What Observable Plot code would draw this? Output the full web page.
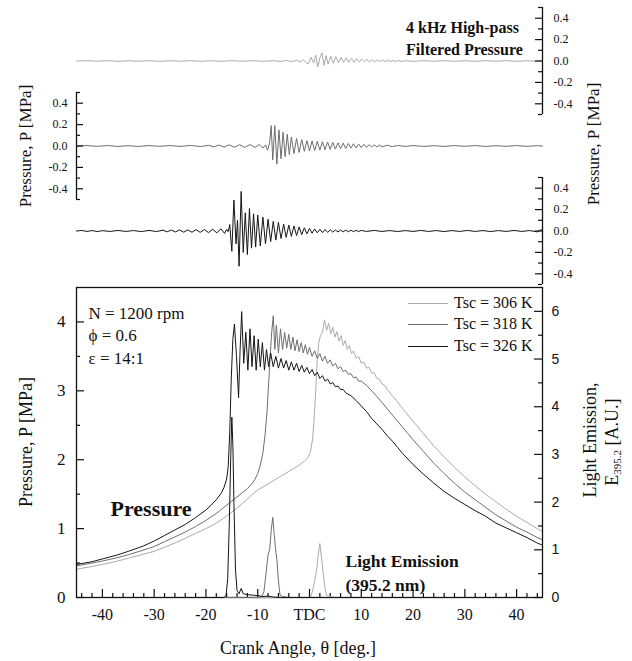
<!DOCTYPE html>
<html><head><meta charset="utf-8">
<script src="https://cdn.jsdelivr.net/npm/d3@7"></script>
<script src="https://cdn.jsdelivr.net/npm/@observablehq/plot@0.6"></script>
<style>
body{margin:0;background:#fff;}
#wrap{position:relative;width:632px;height:661px;font-family:"Liberation Serif","Times New Roman",serif;color:#111;overflow:hidden;background:#fff}
.layer{position:absolute;left:0}
.rot{position:absolute;transform:translate(-50%,-50%) rotate(-90deg);white-space:nowrap;line-height:1}
.lbl{position:absolute;white-space:nowrap;line-height:1;transform:translateY(-50%)}
.leg{position:absolute;left:408px;display:flex;align-items:center;font-size:16px;line-height:1;transform:translateY(-50%)}
.leg span.ln{display:inline-block;width:40px;height:0;border-top:1.2px solid;margin-right:6px}
</style></head><body><div id="wrap"></div>
<script>
// ---- data ----
const seriesNames = ["Tsc = 306 K", "Tsc = 318 K", "Tsc = 326 K"];
const seriesColors = ["#ababab", "#6e6e6e", "#151515"];

const xMajor = [-40, -30, -20, -10, 0, 10, 20, 30, 40];
const xMinor = [-44,-42,-38,-36,-34,-32,-28,-26,-24,-22,-18,-16,-14,-12,-8,-6,-4,-2,2,4,6,8,12,14,16,18,22,24,26,28,32,34,36,38,42,44];
const pMajor = [0, 1, 2, 3, 4];
const pMinor = [0.5, 1.5, 2.5, 3.5];
const eMajor = [0, 1, 2, 3, 4, 5, 6];
const eMinor = [0.5, 1.5, 2.5, 3.5, 4.5, 5.5];
const hpMajor = [-0.4, -0.2, 0, 0.2, 0.4];
const hpMinor = [-0.5, -0.3, -0.1, 0.1, 0.3, 0.5];

// cylinder pressure [MPa] vs crank angle
const p306 = [[-45,0.41],[-42,0.45],[-40,0.48],[-37,0.53],[-35,0.57],[-32,0.63],[-30,0.67],[-28,0.73],[-26,0.79],[-24,0.86],[-22,0.93],[-20,1.0],[-18,1.08],[-16,1.18],[-14,1.3],[-13,1.36],[-12,1.43],[-11,1.5],[-10.5,1.53],[-10,1.56],[-8,1.65],[-6,1.74],[-4,1.83],[-2,1.92],[-1,1.98],[-0.3,2.03],[0.2,2.12],[0.6,2.3],[0.9,2.6],[1.2,3.0],[1.5,3.45],[1.8,3.7],[2.1,3.8],[2.5,3.85],[2.9,4.03],[3.3,3.88],[3.7,3.98],[4.1,3.83],[4.5,3.92],[4.9,3.78],[5.3,3.86],[5.7,3.72],[6.1,3.8],[6.5,3.66],[6.9,3.73],[7.3,3.6],[7.7,3.66],[8.1,3.54],[8.5,3.58],[9,3.47],[9.5,3.5],[10,3.4],[10.5,3.42],[11,3.33],[11.5,3.34],[12,3.26],[12.5,3.26],[13,3.18],[13.5,3.17],[14,3.1],[14.5,3.08],[15,3.02],[16,2.93],[17,2.84],[18,2.74],[19,2.65],[20,2.56],[22,2.38],[24,2.2],[26,2.04],[28,1.89],[30,1.75],[32,1.62],[34,1.5],[36,1.39],[38,1.28],[40,1.18],[42,1.09],[44,1.0],[45,0.96]];
const p318 = [[-45,0.46],[-42,0.5],[-40,0.53],[-37,0.58],[-35,0.62],[-32,0.69],[-30,0.74],[-28,0.81],[-26,0.88],[-24,0.95],[-22,1.03],[-20,1.12],[-18,1.22],[-16,1.34],[-15,1.4],[-14,1.46],[-13,1.52],[-12,1.58],[-11,1.66],[-10.5,1.72],[-10,1.8],[-9.5,1.92],[-9,2.1],[-8.6,2.35],[-8.2,2.7],[-7.9,3.1],[-7.6,3.5],[-7.3,3.85],[-7.0,4.09],[-6.7,3.6],[-6.4,3.95],[-6.0,3.55],[-5.6,3.9],[-5.2,3.6],[-4.8,3.85],[-4.4,3.62],[-4.0,3.82],[-3.6,3.6],[-3.2,3.78],[-2.8,3.58],[-2.4,3.74],[-2.0,3.57],[-1.6,3.7],[-1.2,3.55],[-0.8,3.67],[-0.4,3.53],[0,3.63],[0.5,3.5],[1,3.58],[1.5,3.47],[2,3.54],[2.5,3.43],[3,3.5],[3.5,3.4],[4,3.45],[4.5,3.36],[5,3.4],[5.5,3.32],[6,3.35],[6.5,3.28],[7,3.3],[7.5,3.24],[8,3.25],[8.5,3.19],[9,3.2],[9.5,3.14],[10,3.14],[11,3.08],[12,3.0],[13,2.92],[14,2.83],[15,2.74],[16,2.65],[17,2.56],[18,2.47],[19,2.38],[20,2.29],[22,2.12],[24,1.95],[26,1.8],[28,1.66],[30,1.53],[32,1.42],[34,1.31],[36,1.2],[38,1.11],[40,1.02],[42,0.95],[44,0.87],[45,0.84]];
const p326 = [[-45,0.48],[-42,0.52],[-40,0.56],[-37,0.62],[-35,0.67],[-32,0.75],[-30,0.82],[-28,0.9],[-26,0.98],[-24,1.06],[-22,1.16],[-20,1.27],[-19,1.34],[-18,1.42],[-17,1.52],[-16.5,1.6],[-16,1.72],[-15.7,1.9],[-15.4,2.4],[-15.1,3.2],[-14.8,3.75],[-14.5,3.97],[-14.1,3.5],[-13.7,2.9],[-13.4,3.6],[-13.1,4.15],[-12.7,3.4],[-12.3,3.85],[-11.9,3.3],[-11.5,3.9],[-11.1,3.35],[-10.7,3.8],[-10.3,3.3],[-9.9,3.75],[-9.5,3.35],[-9.1,3.7],[-8.7,3.3],[-8.3,3.6],[-7.9,3.35],[-7.5,3.55],[-7.0,3.35],[-6.5,3.5],[-6,3.33],[-5.5,3.47],[-5,3.33],[-4.5,3.44],[-4,3.3],[-3.5,3.42],[-3,3.3],[-2.5,3.4],[-2,3.28],[-1.5,3.37],[-1,3.27],[-0.5,3.34],[0,3.25],[0.5,3.31],[1,3.22],[1.5,3.27],[2,3.18],[2.5,3.22],[3,3.14],[3.5,3.17],[4,3.1],[4.5,3.12],[5,3.06],[5.5,3.07],[6,3.02],[6.5,3.02],[7,2.97],[8,2.93],[9,2.86],[10,2.78],[11,2.7],[12,2.6],[13,2.52],[14,2.44],[15,2.35],[16,2.27],[17,2.18],[18,2.09],[19,2.01],[20,1.93],[22,1.79],[24,1.66],[26,1.54],[28,1.44],[30,1.35],[32,1.26],[34,1.18],[36,1.08],[38,1.01],[40,0.94],[42,0.87],[44,0.79],[45,0.76]];

// light emission E395.2 [A.U.]
const e306 = [[-45,0],[0.2,0],[0.5,0.1],[0.9,0.3],[1.35,0.56],[1.7,0.9],[2.0,1.13],[2.3,0.85],[2.6,0.55],[3.0,0.2],[3.3,0.05],[4,0.02],[5,0],[45,0]];
const e318 = [[-45,0],[-10,0],[-9.2,0.02],[-8.8,0.12],[-8.4,0.5],[-8.0,0.9],[-7.7,1.0],[-7.4,1.4],[-7.1,1.68],[-6.8,1.3],[-6.5,0.95],[-6.3,0.8],[-6.0,0.35],[-5.7,0.05],[-5.2,0.02],[-4,0],[45,0]];
const e326 = [[-45,0],[-16.5,0],[-16.1,0.05],[-15.8,0.4],[-15.5,1.5],[-15.2,3.0],[-15.0,3.78],[-14.8,3.2],[-14.6,2.0],[-14.3,0.6],[-14.0,0.15],[-13.6,0.08],[-13.2,0.19],[-12.8,0.08],[-12,0.06],[-11,0.05],[-10,0.04],[-9,0.02],[-8,0.03],[-7,0.01],[-6,0],[45,0]];

// 4 kHz high-pass filtered pressure [MPa]
const hp306 = [[-45,0],[-43,0.003],[-41,-0.002],[-39,0.003],[-37,-0.003],[-35,0.002],[-33,-0.002],[-31,0.003],[-29,-0.003],[-27,0.002],[-25,-0.002],[-23,0.003],[-21,-0.003],[-19,0.002],[-17,-0.003],[-15,0.003],[-13,-0.002],[-11,0.003],[-9,-0.003],[-7,0.003],[-5.5,-0.004],[-4.5,0.005],[-3.5,-0.006],[-2.5,0.007],[-1.8,-0.009],[-1.2,0.012],[-0.6,-0.018],[-0.2,-0.025],[0.3,0.035],[0.8,-0.02],[1.2,0.055],[1.6,-0.056],[2.0,0.03],[2.4,0.075],[2.8,-0.04],[3.2,0.05],[3.6,-0.03],[4.1,0.045],[4.6,-0.02],[5.1,0.04],[5.6,-0.018],[6.1,0.035],[6.6,-0.015],[7.1,0.03],[7.6,-0.013],[8.1,0.026],[8.6,-0.012],[9.1,0.022],[9.6,-0.01],[10.1,0.018],[10.6,-0.009],[11.1,0.015],[11.6,-0.008],[12.1,0.013],[12.6,-0.007],[13.1,0.011],[13.6,-0.006],[14.1,0.009],[14.6,-0.006],[15.1,0.008],[15.6,-0.006],[16.1,0.007],[16.6,-0.005],[17.1,0.005],[17.6,-0.004],[18.5,0.003],[20,-0.003],[22,0.003],[24,-0.002],[26,0.003],[28,-0.003],[30,0.002],[32,-0.003],[34,0.003],[36,-0.002],[38,0.003],[40,-0.003],[42,0.002],[44,-0.002],[45,0]];
const hp318 = [[-45,0],[-43,0.004],[-41,-0.003],[-39,0.004],[-37,-0.004],[-35,0.003],[-33,-0.004],[-31,0.004],[-29,-0.003],[-27,0.004],[-25,-0.004],[-23,0.005],[-21,-0.005],[-19.5,0.007],[-18.5,-0.008],[-17.5,0.009],[-16.5,-0.01],[-15.5,0.011],[-14.5,-0.012],[-13.5,0.012],[-12.5,-0.013],[-11.5,0.013],[-10.5,-0.014],[-9.7,0.015],[-9.0,-0.02],[-8.5,0.01],[-8.1,-0.04],[-7.7,0.03],[-7.4,0.19],[-7.1,-0.13],[-6.7,0.19],[-6.3,-0.17],[-5.9,0.15],[-5.5,-0.12],[-5.1,0.13],[-4.7,-0.1],[-4.3,0.11],[-3.9,-0.08],[-3.5,0.085],[-3.0,-0.07],[-2.5,0.07],[-2.0,-0.06],[-1.5,0.06],[-1.0,-0.05],[-0.5,0.05],[0,-0.045],[0.5,0.048],[1,-0.042],[1.5,0.044],[2,-0.038],[2.5,0.04],[3,-0.035],[3.5,0.037],[4,-0.032],[4.5,0.034],[5,-0.029],[5.5,0.03],[6,-0.026],[6.5,0.027],[7,-0.023],[7.5,0.024],[8,-0.02],[8.5,0.021],[9,-0.018],[9.5,0.018],[10,-0.015],[10.5,0.016],[11,-0.013],[11.5,0.013],[12,-0.011],[12.5,0.011],[13,-0.009],[13.5,0.009],[14,-0.008],[15,0.007],[16,-0.006],[17,0.005],[18.5,-0.004],[20,0.004],[22,-0.004],[24,0.003],[26,-0.004],[28,0.004],[30,-0.003],[32,0.004],[34,-0.004],[36,0.003],[38,-0.003],[40,0.004],[42,-0.003],[44,0.003],[45,0]];
const hp326 = [[-45,0],[-44,0.005],[-43,-0.004],[-42,0.004],[-41,-0.005],[-40,0.003],[-38.5,-0.004],[-37,0.005],[-35.5,-0.004],[-34,0.004],[-32.5,-0.005],[-31,0.005],[-29.5,-0.005],[-28.3,0.008],[-27.5,-0.008],[-26.7,0.009],[-25.9,-0.009],[-25.1,0.01],[-24.3,-0.011],[-23.5,0.011],[-22.7,-0.012],[-21.9,0.013],[-21.1,-0.013],[-20.3,0.014],[-19.5,-0.015],[-18.7,0.016],[-17.9,-0.017],[-17.1,0.02],[-16.4,-0.022],[-16.0,0.015],[-15.7,-0.005],[-15.4,0.06],[-15.0,-0.19],[-14.6,0.29],[-14.2,-0.12],[-13.9,0.1],[-13.6,-0.33],[-13.2,0.37],[-12.8,-0.2],[-12.4,0.17],[-12.0,-0.22],[-11.6,0.21],[-11.2,-0.16],[-10.8,0.16],[-10.4,-0.15],[-10.0,0.15],[-9.5,-0.14],[-9.0,0.13],[-8.5,-0.12],[-8.0,0.11],[-7.5,-0.1],[-7.0,0.09],[-6.5,-0.085],[-6.0,0.08],[-5.5,-0.07],[-5.0,0.065],[-4.5,-0.06],[-4.0,0.055],[-3.5,-0.05],[-3.0,0.047],[-2.5,-0.042],[-2.0,0.038],[-1.5,-0.034],[-1.0,0.03],[-0.5,-0.027],[0,0.024],[0.5,-0.021],[1,0.019],[1.5,-0.017],[2,0.016],[2.5,-0.015],[3,0.014],[3.5,-0.013],[4,0.012],[4.5,-0.011],[5,0.01],[5.5,-0.009],[6,0.009],[6.5,-0.008],[7,0.008],[7.5,-0.007],[8,0.007],[8.5,-0.006],[9,0.006],[9.5,-0.005],[10,0.005],[11,-0.004],[12.5,0.005],[14,-0.004],[15.5,0.004],[17,-0.005],[18.5,0.004],[20,-0.004],[21.5,0.005],[23,-0.004],[24.5,0.004],[26,-0.005],[27.5,0.004],[29,-0.004],[30.5,0.005],[32,-0.004],[33.5,0.004],[35,-0.005],[36.5,0.004],[38,-0.004],[39.5,0.005],[41,-0.004],[42.5,0.004],[44,-0.008],[44.8,0.012],[45,0]];

// ---- layout ----
const W = 632, ML = 76, MR = 90, PW = W - ML - MR;
const INK = "#111";
const wrap = document.getElementById("wrap");
function place(node, top) {
  node.classList.add("layer");
  node.style.top = top + "px";
  wrap.appendChild(node);
}
const baseStyle = {background: "transparent", fontFamily: "'Liberation Serif', 'Times New Roman', serif", color: INK, overflow: "visible"};

function hpPanel(data, color, side, top) {
  const right = side === "right";
  const major = right ? {insetLeft: PW - 7} : {insetRight: PW - 7};
  const minor = right ? {insetLeft: PW - 4} : {insetRight: PW - 4};
  const chart = Plot.plot({
    width: W, height: 125, marginTop: 7, marginBottom: 11, marginLeft: ML, marginRight: MR,
    x: {domain: [-45, 45], axis: null},
    y: {domain: [-0.5, 0.5]},
    style: baseStyle,
    marks: [
      Plot.line(data, {x: d => d[0], y: d => d[1], stroke: color, strokeWidth: 1}),
      Plot.ruleX([right ? 45 : -45], {stroke: INK, strokeWidth: 1.3}),
      Plot.ruleY(hpMajor, {...major, stroke: INK, strokeWidth: 1.2}),
      Plot.ruleY(hpMinor, {...minor, stroke: INK, strokeWidth: 1.2}),
      Plot.axisY(hpMajor, {anchor: side, tickSize: 0, tickPadding: right ? 11 : 9, tickFormat: d => d.toFixed(1), label: null, fontSize: 12, fill: INK})
    ]
  });
  place(chart, top);
}

hpPanel(hp306, seriesColors[0], "right", 0);
hpPanel(hp318, seriesColors[1], "left", 85);
hpPanel(hp326, seriesColors[2], "right", 170);

const MH = 391, MT = 17, MB = 64, PH = MH - MT - MB;
const mainChart = Plot.plot({
  width: W, height: MH, marginTop: MT, marginBottom: MB, marginLeft: ML, marginRight: MR,
  x: {domain: [-45, 45]},
  y: {domain: [0, 4.5]},
  style: baseStyle,
  marks: [
    Plot.line(p306, {x: d => d[0], y: d => d[1], stroke: seriesColors[0], strokeWidth: 1}),
    Plot.line(p318, {x: d => d[0], y: d => d[1], stroke: seriesColors[1], strokeWidth: 1}),
    Plot.line(p326, {x: d => d[0], y: d => d[1], stroke: seriesColors[2], strokeWidth: 1}),
    Plot.frame({stroke: INK, strokeWidth: 1.3}),
    Plot.ruleY(pMajor, {insetRight: PW - 8, stroke: INK, strokeWidth: 1.2}),
    Plot.ruleY(pMinor, {insetRight: PW - 4, stroke: INK, strokeWidth: 1.2}),
    Plot.ruleX(xMajor, {insetTop: PH - 8, stroke: INK, strokeWidth: 1.2}),
    Plot.ruleX(xMinor, {insetTop: PH - 4, stroke: INK, strokeWidth: 1.2}),
    Plot.axisY(pMajor, {anchor: "left", tickSize: 0, tickPadding: 11, label: null, fontSize: 17, fill: INK, tickFormat: d => String(d)}),
    Plot.axisX(xMajor, {anchor: "bottom", tickSize: 0, tickPadding: 11, label: null, fontSize: 16, fill: INK, tickFormat: d => d === 0 ? "TDC" : String(d)}),
    Plot.text(["N = 1200 rpm"], {text: d => d, frameAnchor: "top-left", dx: 12, dy: 19, textAnchor: "start", fontSize: 17, fill: INK}),
    Plot.text(["\u03D5 = 0.6"], {text: d => d, frameAnchor: "top-left", dx: 12, dy: 41, textAnchor: "start", fontSize: 17, fill: INK}),
    Plot.text(["\u03B5 = 14:1"], {text: d => d, frameAnchor: "top-left", dx: 12, dy: 64, textAnchor: "start", fontSize: 17, fill: INK}),
    Plot.text(["Pressure"], {text: d => d, frameAnchor: "top-left", dx: 34, dy: 213, textAnchor: "start", fontSize: 22, fontWeight: "bold", fill: INK}),
    Plot.text(["Light Emission"], {text: d => d, frameAnchor: "top-left", dx: 269, dy: 267, textAnchor: "start", fontSize: 17.5, fontWeight: "bold", fill: INK}),
    Plot.text(["(395.2 nm)"], {text: d => d, frameAnchor: "top-left", dx: 269, dy: 291, textAnchor: "start", fontSize: 17.5, fontWeight: "bold", fill: INK})
  ]
});
place(mainChart, 270);

const emChart = Plot.plot({
  width: W, height: MH, marginTop: MT, marginBottom: MB, marginLeft: ML, marginRight: MR,
  x: {domain: [-45, 45], axis: null},
  y: {domain: [0, 6.5]},
  style: baseStyle,
  marks: [
    Plot.line(e306, {x: d => d[0], y: d => d[1], stroke: seriesColors[0], strokeWidth: 1}),
    Plot.line(e318, {x: d => d[0], y: d => d[1], stroke: seriesColors[1], strokeWidth: 1}),
    Plot.line(e326, {x: d => d[0], y: d => d[1], stroke: seriesColors[2], strokeWidth: 1}),
    Plot.ruleY(eMajor, {insetLeft: PW - 8, stroke: INK, strokeWidth: 1.2}),
    Plot.ruleY(eMinor, {insetLeft: PW - 4, stroke: INK, strokeWidth: 1.2}),
    Plot.axisY(eMajor, {anchor: "right", tickSize: 0, tickPadding: 9, label: null, fontSize: 14, fontFamily: "'Liberation Sans', Arial, sans-serif", fill: INK, tickFormat: d => String(d)})
  ]
});
place(emChart, 270);

// ---- HTML text: titles, legend ----
function addDiv(cls, html, styles) {
  const d = document.createElement("div");
  d.className = cls;
  d.innerHTML = html;
  Object.assign(d.style, styles);
  wrap.appendChild(d);
  return d;
}
addDiv("lbl", "4 kHz High-pass", {left: "406px", top: "28px", fontSize: "16px", fontWeight: "bold"});
addDiv("lbl", "Filtered Pressure", {left: "406px", top: "50px", fontSize: "16px", fontWeight: "bold"});
addDiv("rot", "Pressure, P [MPa]", {left: "25px", top: "146px", fontSize: "17px"});
addDiv("rot", "Pressure, P [MPa]", {left: "593px", top: "144px", fontSize: "17px"});
addDiv("rot", "Pressure, P [MPa]", {left: "26px", top: "442px", fontSize: "18px"});
addDiv("rot", "Light Emission,", {left: "590px", top: "440px", fontSize: "18px"});
addDiv("rot", "E<sub style='font-size:11px;vertical-align:-3px'>395.2</sub> [A.U.]", {left: "613px", top: "442px", fontSize: "18px"});
addDiv("lbl", "Crank Angle, \u03B8 [deg.]", {left: "298px", top: "648px", fontSize: "18px", transform: "translate(-50%,-50%)"});

const legendY = [303, 324, 346];
seriesNames.forEach((name, i) => {
  addDiv("leg", `<span class="ln" style="border-color:${seriesColors[i]}"></span><span>${name}</span>`, {top: legendY[i] + "px"});
});
</script>
</body></html>
